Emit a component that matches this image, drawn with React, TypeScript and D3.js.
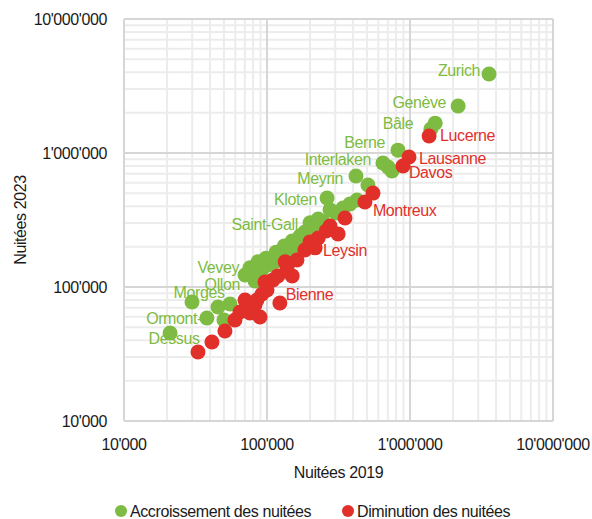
import React from "react";
import * as d3 from "d3";

// ---- data (Nuitées 2019 vs 2023) ----
const greenX = [3570000, 2170000, 1500000, 1400000, 824000, 647000, 702000, 748000, 419000, 508000, 263000, 426000, 380000, 340000, 304000, 247000, 206000, 184000, 165000, 150000, 138000, 123000, 112000, 102000, 92300, 85100, 70200, 82400, 55100, 45400, 50000, 29900, 38000, 21000, 76000, 86500, 98400, 116000, 132000, 150000, 170000, 200000, 228000, 276000];
const greenY = [3890000, 2240000, 1670000, 1510000, 1050000, 842000, 787000, 734000, 673000, 577000, 461000, 446000, 416000, 389000, 357000, 305000, 281000, 257000, 224000, 196000, 176000, 164000, 154000, 146000, 136000, 127000, 123000, 111000, 74600, 70900, 56700, 77300, 58700, 45400, 139000, 154000, 164000, 182000, 202000, 220000, 240000, 301000, 322000, 376000];
const greenNames = ["Zurich", "Genève", "Bâle", "", "Berne", "Interlaken", "", "", "Meyrin", "", "Kloten", "", "", "", "", "", "", "Saint-Gall", "", "", "", "", "", "", "", "", "Vevey", "Ollon", "", "", "", "Morges", "", "Ormont-Dessus", "", "", "", "", "", "", "", "", "", ""];

const redX = [1360000, 984000, 893000, 551000, 484000, 351000, 314000, 259000, 228000, 217000, 200000, 162000, 150000, 138000, 123000, 110000, 100000, 92300, 85100, 89300, 76000, 64700, 59700, 50800, 41200, 32900, 72400, 119000, 96800, 134000, 184000, 276000, 70200, 82400];
const redY = [1340000, 933000, 800000, 502000, 431000, 327000, 249000, 262000, 232000, 196000, 217000, 159000, 121000, 139000, 76000, 113000, 95000, 88700, 80000, 59700, 64000, 65000, 56700, 47000, 38900, 32700, 73500, 121000, 109000, 154000, 189000, 285000, 80000, 73500];
const redNames = ["Lucerne", "Lausanne", "Davos", "", "Montreux", "", "", "", "", "Leysin", "", "", "", "", "Bienne", "", "", "", "", "", "", "", "", "", "", "", "", "", "", "", "", "", "", ""];

const axisTicks = [10000, 100000, 1000000, 10000000];
const xTitle = "Nuitées 2019";
const yTitle = "Nuitées 2023";
const legendLabels = ["Accroissement des nuitées", "Diminution des nuitées"];

// ---- layout / style ----
const W = 592, H = 519;
const L = 124, R = 553, T = 19, B = 421;
const GREEN = "#7DBB42";
const RED = "#E1302A";
const FONT = "'Liberation Sans', Arial, sans-serif";
const LS = "-0.4px";

const labelLayout: Record<string, { dx: number; dy: number; anchor: string; lines?: string[]; lineDy?: number[] }> = {
  "Zurich": { dx: -9, dy: -4, anchor: "end" },
  "Genève": { dx: -12, dy: -4, anchor: "end" },
  "Bâle": { dx: -22, dy: 0, anchor: "end" },
  "Berne": { dx: -13, dy: -8, anchor: "end" },
  "Interlaken": { dx: -12, dy: -4, anchor: "end" },
  "Meyrin": { dx: -13, dy: 2, anchor: "end" },
  "Kloten": { dx: -10, dy: 1, anchor: "end" },
  "Saint-Gall": { dx: -7, dy: -8, anchor: "end" },
  "Vevey": { dx: -6, dy: -8, anchor: "end" },
  "Ollon": { dx: -15, dy: 3, anchor: "end" },
  "Morges": { dx: 7, dy: -10, anchor: "middle" },
  "Ormont-Dessus": { dx: 4, dy: 0, anchor: "middle", lines: ["Ormont-", "Dessus"], lineDy: [-15, 5] },
  "Lucerne": { dx: 11, dy: -1, anchor: "start" },
  "Lausanne": { dx: 10, dy: 1, anchor: "start" },
  "Davos": { dx: 6, dy: 6, anchor: "start" },
  "Montreux": { dx: 8, dy: 8, anchor: "start" },
  "Leysin": { dx: 8, dy: 2, anchor: "start" },
  "Bienne": { dx: 6, dy: -9, anchor: "start" },
};

const fmt = (v: number) => d3.format(",")(v).replace(/,/g, "'");

export default function App() {
  const x = d3.scaleLog().domain([1e4, 1e7]).range([L, R]);
  const y = d3.scaleLog().domain([1e4, 1e7]).range([B, T]);

  const minor: number[] = [];
  [1e4, 1e5, 1e6].forEach((d) => {
    for (let k = 2; k <= 9; k++) minor.push(k * d);
  });

  const green = greenX.map((v, i) => ({ x: v, y: greenY[i], name: greenNames[i] }));
  const red = redX.map((v, i) => ({ x: v, y: redY[i], name: redNames[i] }));

  const renderLabel = (p: { x: number; y: number; name: string }, color: string, key: string) => {
    if (!p.name) return null;
    const lay = labelLayout[p.name];
    if (!lay) return null;
    const cx = x(p.x) + lay.dx;
    const cy = y(p.y) + lay.dy;
    const lines = lay.lines || [p.name];
    const ldy = lay.lineDy || [0];
    return lines.map((t, j) => (
      <text
        key={key + j}
        x={cx}
        y={cy + ldy[j] + 6}
        textAnchor={lay.anchor as any}
        fill={color}
        fontSize={16}
        letterSpacing={LS}
        fontFamily={FONT}
      >
        {t}
      </text>
    ));
  };

  return (
    <svg width={W} height={H} style={{ position: "absolute", left: 0, top: 0, background: "#fff" }} fontFamily={FONT}>
      <rect x={0} y={0} width={W} height={H} fill="#fff" />
      {/* minor grid */}
      {minor.map((v) => (
        <g key={"m" + v}>
          <line x1={x(v)} x2={x(v)} y1={T} y2={B} stroke="#ececec" strokeWidth={2} />
          <line x1={L} x2={R} y1={y(v)} y2={y(v)} stroke="#ececec" strokeWidth={2} />
        </g>
      ))}
      {/* major grid */}
      {axisTicks.map((v) => (
        <g key={"M" + v}>
          <line x1={x(v)} x2={x(v)} y1={T} y2={B} stroke="#d6d6d6" strokeWidth={2} />
          <line x1={L} x2={R} y1={y(v)} y2={y(v)} stroke="#d6d6d6" strokeWidth={2} />
        </g>
      ))}
      {/* tick labels */}
      {axisTicks.map((v) => (
        <text key={"yt" + v} x={L - 17} y={y(v) + 6} textAnchor="end" fontSize={16} letterSpacing={LS} fill="#1a1a1a">
          {fmt(v)}
        </text>
      ))}
      {axisTicks.map((v) => (
        <text key={"xt" + v} x={x(v)} y={450} textAnchor="middle" fontSize={16} letterSpacing={LS} fill="#1a1a1a">
          {fmt(v)}
        </text>
      ))}
      {/* axis titles */}
      <text x={(L + R) / 2} y={478} textAnchor="middle" fontSize={16} letterSpacing={LS} fill="#1a1a1a">
        {xTitle}
      </text>
      <text
        transform={`translate(26, ${(T + B) / 2}) rotate(-90)`}
        textAnchor="middle"
        fontSize={16}
        letterSpacing={LS}
        fill="#1a1a1a"
      >
        {yTitle}
      </text>
      {/* labels (under markers) */}
      {green.map((p, i) => renderLabel(p, GREEN, "gl" + i))}
      {red.map((p, i) => renderLabel(p, RED, "rl" + i))}
      {/* points */}
      {green.map((p, i) => (
        <circle key={"g" + i} cx={x(p.x)} cy={y(p.y)} r={7.5} fill={GREEN} />
      ))}
      {red.map((p, i) => (
        <circle key={"r" + i} cx={x(p.x)} cy={y(p.y)} r={7.5} fill={RED} />
      ))}
      {/* legend */}
      <circle cx={121} cy={511} r={6} fill={GREEN} />
      <text x={130} y={517} fontSize={16} letterSpacing={LS} fill="#1a1a1a">
        {legendLabels[0]}
      </text>
      <circle cx={348} cy={511} r={6} fill={RED} />
      <text x={357} y={517} fontSize={16} letterSpacing={LS} fill="#1a1a1a">
        {legendLabels[1]}
      </text>
    </svg>
  );
}
